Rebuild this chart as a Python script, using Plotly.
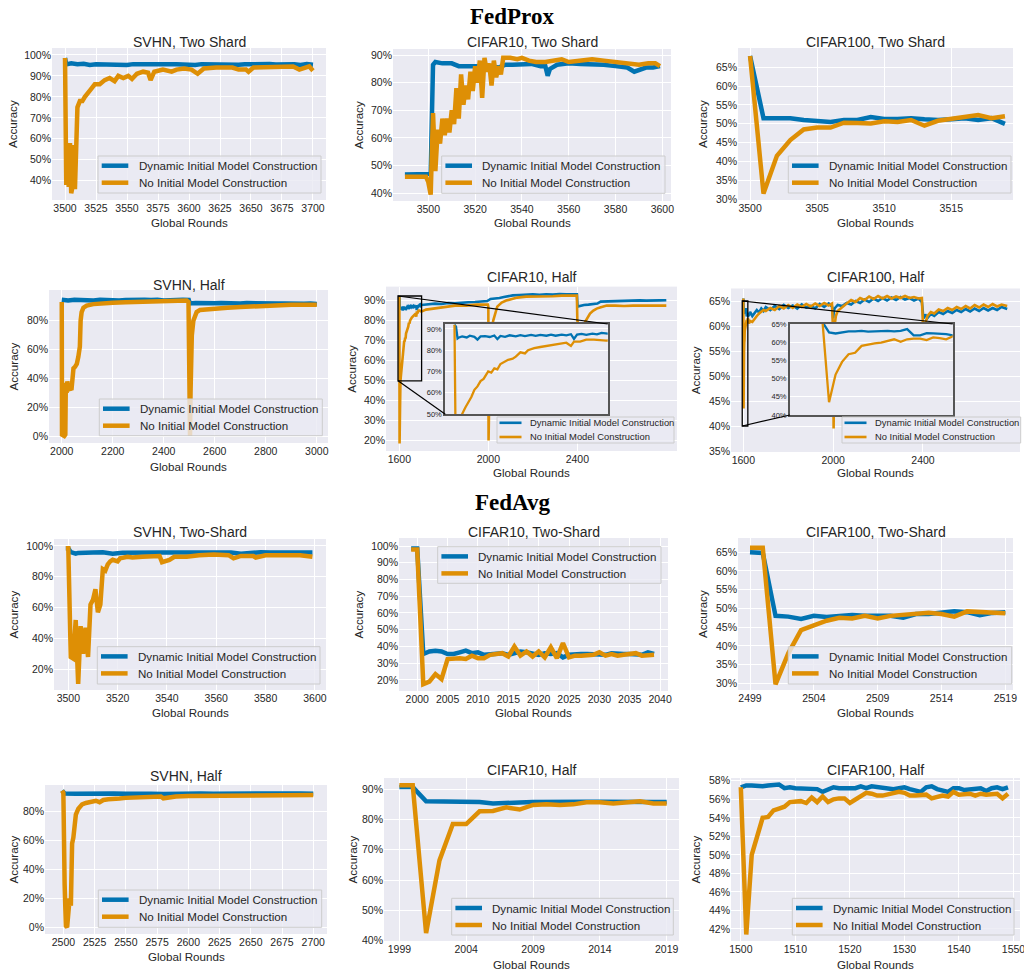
import plotly.graph_objects as go

W, H = 1024, 972
BLUE = '#0173b2'
ORANGE = '#de8f05'
NAME_DYN = 'Dynamic Initial Model Construction'
NAME_NO = 'No Initial Model Construction'

# ======================= DATA =======================
# ---- FedProx, SVHN, Two Shard ----
fp_svhn_two_x_dyn = [3500, 3501, 3505, 3510, 3515, 3520, 3525, 3530, 3535, 3540, 3545, 3550, 3555, 3560,
                     3565, 3570, 3575, 3580, 3585, 3590, 3595, 3600, 3605, 3610, 3615, 3620, 3625, 3630,
                     3635, 3640, 3645, 3650, 3655, 3660, 3665, 3670, 3675, 3680, 3685, 3690, 3695, 3700]
fp_svhn_two_y_dyn = [98.5, 95.5, 96.0, 95.6, 95.8, 95.2, 95.5, 95.4, 95.7, 95.3, 95.6, 95.2, 95.6, 95.5,
                     95.7, 95.4, 95.6, 95.3, 95.5, 95.6, 95.4, 95.5, 95.2, 95.6, 95.5, 95.7, 95.4, 95.5,
                     95.6, 95.3, 95.5, 95.6, 95.4, 95.5, 95.7, 95.4, 95.6, 95.3, 95.5, 95.2, 95.6, 95.3]
fp_svhn_two_x_no = [3500, 3501, 3502, 3503, 3504, 3505, 3506, 3507, 3508, 3509, 3510, 3512, 3514, 3516,
                    3518, 3520, 3524, 3528, 3532, 3536, 3540, 3543, 3547, 3551, 3554, 3558, 3563, 3567,
                    3569, 3572, 3579, 3586, 3590, 3596, 3602, 3607, 3612, 3622, 3635, 3640, 3646, 3648,
                    3652, 3662, 3676, 3684, 3689, 3697, 3700]
fp_svhn_two_y_no = [98.5, 38, 57, 37, 58, 34, 37, 57, 36, 60, 75, 78, 78, 80,
                    82, 83, 86, 86, 88, 89, 87.5, 90, 89, 90, 88.5, 91, 92, 91.5,
                    88, 92, 93, 92, 93, 93.5, 93, 91, 93.5, 94, 94, 93, 93, 92,
                    94, 94, 94.5, 94.5, 93, 94.5, 92.5]

# ---- FedProx, CIFAR10, Two Shard ----
fp_c10_two_x_dyn = [3490, 3495, 3500, 3501, 3502, 3503, 3506, 3510, 3513, 3516, 3520, 3523, 3526, 3530,
                    3533, 3536, 3540, 3544, 3548, 3550, 3551, 3552, 3555, 3560, 3565, 3570, 3575, 3580,
                    3585, 3588, 3590, 3593, 3596, 3599]
fp_c10_two_y_dyn = [46.8, 47.0, 46.8, 47.0, 86.5, 87.5, 87.0, 87.0, 86.0, 86.0, 86.0, 85.8, 86.0, 85.5,
                    86.5, 86.5, 86.5, 86.8, 86.0, 86.0, 82.5, 85.0, 86.5, 87.0, 86.8, 86.8, 86.5, 86.0,
                    85.5, 84.0, 84.5, 85.5, 85.5, 86.0]
fp_c10_two_x_no = [3490, 3495, 3499, 3500, 3501, 3502, 3503, 3504, 3505, 3506, 3507, 3508, 3509, 3510,
                   3511, 3512, 3513, 3514, 3515, 3516, 3517, 3518, 3519, 3520, 3521, 3522, 3523, 3524,
                   3525, 3526, 3527, 3528, 3529, 3530, 3531, 3532, 3535, 3538, 3540, 3543, 3546, 3550,
                   3553, 3557, 3560, 3565, 3570, 3575, 3580, 3585, 3590, 3594, 3597, 3599]
fp_c10_two_y_no = [46, 46, 46, 44, 39.5, 69, 48, 63, 58, 67, 61, 67, 62, 70,
                   65, 78, 67, 83, 72, 79, 74, 84, 77, 86, 80, 88, 74.5, 89,
                   84, 87, 79, 88, 82, 86, 83, 89, 89, 88.5, 89, 88, 87.5, 87.5,
                   88, 88.5, 87.5, 88, 88.5, 88, 87.5, 87, 86.5, 87, 87, 86]

# ---- FedProx, CIFAR100, Two Shard ----
fp_c100_two_x = list(range(3500, 3520))
fp_c100_two_y_dyn = [68, 51.5, 51.5, 51.5, 51.0, 50.8, 50.5, 51.0, 51.0, 51.8,
                     51.3, 51.3, 51.5, 51.2, 51.0, 51.2, 51.5, 51.0, 51.5, 50.0]
fp_c100_two_y_no = [68, 31.5, 41.5, 45.7, 48.5, 49.0, 49.0, 50.3, 50.2, 50.1,
                    50.7, 50.5, 51.0, 49.5, 50.8, 51.3, 51.5, 52.3, 51.5, 52.0]

# ---- FedProx, SVHN, Half ----
fp_svhn_half_x_dyn = [2000, 2025, 2050, 2075, 2100, 2125, 2150, 2175, 2200, 2225, 2250, 2275, 2300, 2325,
                      2350, 2375, 2400, 2425, 2450, 2475, 2498, 2502, 2525, 2550, 2575, 2600, 2625, 2650,
                      2675, 2700, 2725, 2750, 2775, 2800, 2825, 2850, 2875, 2900, 2925, 2950, 2975, 3000]
fp_svhn_half_y_dyn = [94.5, 94.0, 94.6, 94.2, 94.5, 94.1, 94.6, 94.3, 94.5, 94.0, 94.4, 94.6, 94.2, 94.5,
                      94.3, 94.6, 94.1, 94.5, 94.3, 94.6, 94.4, 92.0, 92.3, 92.0, 92.4, 92.1, 92.3, 92.0,
                      92.2, 91.9, 92.2, 92.0, 92.1, 91.8, 92.1, 91.9, 92.0, 91.7, 92.0, 91.8, 91.9, 91.6]
fp_svhn_half_x_no = [2000, 2001, 2005, 2010, 2014, 2016, 2019, 2022, 2025, 2028, 2031, 2034, 2038, 2042,
                     2046, 2052, 2059, 2065, 2068, 2071, 2074, 2078, 2085, 2098, 2124, 2150, 2200, 2250,
                     2300, 2350, 2400, 2450, 2490, 2497, 2501, 2503, 2505, 2507, 2510, 2516, 2522, 2529,
                     2542, 2569, 2608, 2650, 2700, 2750, 2800, 2850, 2900, 2950, 3000]
fp_svhn_half_y_no = [93, 0, 0.5, 0, 1, 37, 30, 38, 31, 36, 32, 33, 32, 45,
                     47, 48, 50, 55, 60, 62, 80, 86, 89, 90.5, 91.5, 92, 92.5, 92.8,
                     93, 93.3, 93.5, 93.5, 94, 93, 0, 0, 30, 55, 70, 80, 84, 86,
                     87.5, 88, 88.5, 89, 89.5, 90, 90.5, 90.5, 91, 91, 91]

# ---- FedProx, CIFAR10, Half ----
fp_c10_half_x_dyn = [1600, 1601, 1602, 1603, 1605, 1608, 1610, 1613, 1615, 1617, 1620, 1623, 1626, 1628,
                     1630, 1633, 1636, 1640, 1643, 1646, 1650, 1653, 1656, 1660, 1663, 1666, 1670, 1673,
                     1676, 1678, 1680, 1683, 1686, 1690, 1693, 1696, 1700, 1730, 1760, 1790, 1820, 1850,
                     1880, 1910, 1940, 1970, 1995, 2010, 2030, 2050, 2070, 2090, 2110, 2140, 2170, 2200,
                     2230, 2260, 2290, 2320, 2350, 2380, 2398, 2401, 2415, 2430, 2450, 2470, 2490, 2505,
                     2530, 2560, 2590, 2620, 2650, 2680, 2710, 2740, 2770, 2800]
fp_c10_half_y_dyn = [92, 91, 85.5, 86, 86.5, 86, 86.8, 86.3, 85, 86.5, 86.6, 86.2, 86.9, 85.2,
                     86.7, 86.3, 87, 86.5, 87.1, 86.6, 87.2, 86.7, 87.2, 86.8, 87.3, 86.8, 87.3, 87,
                     87.5, 85.3, 87.3, 87.7, 87.2, 87.8, 87.4, 88.1, 87.8, 88.2, 88.5, 88.3, 88.8, 88.6,
                     89, 89.2, 89.3, 89.5, 89.8, 90.8, 91, 91.3, 91.8, 92.2, 92.6, 92.8, 93, 93.1,
                     92.9, 93.2, 93, 93.3, 93.1, 93.3, 93.2, 87, 87.5, 87.8, 88, 88.3, 88.5, 89.5,
                     89.6, 89.8, 89.7, 90, 89.8, 90.1, 90, 90.2, 90.1, 90.2]
fp_c10_half_x_no = [1600, 1601, 1603, 1605, 1607, 1609, 1611, 1613, 1615, 1617, 1619, 1622, 1624, 1626,
                    1628, 1630, 1633, 1635, 1638, 1640, 1643, 1646, 1648, 1652, 1656, 1660, 1665, 1669,
                    1673, 1676, 1678, 1682, 1686, 1691, 1695, 1699, 1720, 1750, 1800, 1850, 1900, 1950,
                    1998, 2000, 2001, 2004, 2008, 2014, 2022, 2040, 2060, 2080, 2100, 2130, 2170, 2210,
                    2250, 2290, 2330, 2370, 2398, 2400, 2410, 2427, 2442, 2457, 2472, 2487, 2502, 2532,
                    2570, 2610, 2650, 2690, 2730, 2770, 2800]
fp_c10_half_y_no = [92, 18.5, 35, 50, 53, 55.2, 58, 61.4, 63, 65.5, 66.5, 70, 69.5, 71.5,
                    71, 73.5, 74.5, 75.5, 76, 77, 79, 78.5, 80, 81, 81.5, 82, 82.5, 83,
                    83.5, 82, 84, 84, 85, 85, 84.7, 84.5, 85.5, 86, 87, 87.5, 87.5, 88,
                    88, 87, 20, 45, 68, 75, 80, 87, 89, 90, 90.5, 91.5, 92, 92,
                    92.3, 92.2, 92.5, 92.3, 92.5, 80, 76, 77.8, 81, 83.5, 85, 86, 86.5, 87.5,
                    87.5, 87.3, 87.5, 87.6, 87.4, 87.5, 87.5]

# ---- FedProx, CIFAR100, Half ----
fp_c100_half_x = [1600, 1601, 1602, 1603, 1604, 1605, 1606, 1607, 1608, 1609, 1610, 1611, 1612, 1613,
                  1614, 1615, 1616, 1617, 1618, 1619, 1620,
                  1625, 1630, 1640, 1650, 1660, 1670, 1680, 1690, 1700, 1720,
                  1740, 1760, 1780, 1800, 1820, 1840, 1860, 1880, 1900, 1920,
                  1940, 1960, 1980, 1995, 2000, 2002, 2006, 2012, 2020, 2040,
                  2060, 2080, 2100, 2120, 2140, 2160, 2180, 2200, 2220, 2240,
                  2260, 2280, 2300, 2320, 2340, 2360, 2380, 2395, 2400, 2402,
                  2410, 2420, 2435, 2450, 2470, 2490, 2510, 2530, 2550, 2570,
                  2590, 2610, 2630, 2650, 2670, 2690, 2710, 2730, 2750, 2775]
fp_c100_half_y_dyn = [65.5, 62.7, 62.4, 62.7, 63, 63, 63.1, 62.9, 63, 63, 63.1, 63, 63.1, 63.6,
                      61.9, 61.9, 62.5, 62.4, 62.4, 62.2, 61.9,
                      62.2, 62.8, 62.0, 62.6, 63.2, 62.7, 63.5, 63.0, 63.8, 63.2,
                      64.0, 63.4, 64.2, 63.6, 64.1, 63.5, 64.3, 63.7, 64.0, 63.5,
                      64.4, 63.8, 64.5, 63.9, 61.5, 62.5, 63.5, 63.8, 64.2, 64.0,
                      64.6, 64.3, 65.0, 64.6, 65.3, 64.8, 65.5, 65.0, 65.6, 65.1,
                      65.7, 65.2, 65.8, 65.3, 65.6, 65.1, 65.5, 64.8, 62.0, 61.5,
                      62.3, 61.6, 62.4, 62.0, 62.8, 62.4, 63.0, 62.6, 63.2, 62.8,
                      63.4, 62.9, 63.5, 63.0, 63.6, 63.1, 63.6, 63.2, 63.8, 63.4]
fp_c100_half_y_no = [65.5, 43.5, 51.1, 54.6, 56.7, 57.1, 59, 59.4, 59.7, 59.9, 60.4, 60.8, 60.1, 60.8,
                     61, 61, 60.6, 61.3, 61.1, 60.8, 61.6,
                     60.5, 61.0, 60.8, 61.5, 62.0, 62.5, 62.8, 63.2, 63.0, 63.6,
                     63.2, 64.0, 63.5, 64.2, 63.6, 64.3, 63.8, 64.4, 63.9, 64.5,
                     64.0, 64.6, 64.1, 64.5, 58.0, 39.5, 60.0, 62.0, 63.0, 63.8,
                     64.5, 65.2, 64.8, 65.6, 65.2, 65.9, 65.4, 66.0, 65.5, 66.0,
                     65.5, 65.9, 65.6, 66.0, 65.6, 65.8, 65.5, 65.6, 60.0, 45.0,
                     60.5, 62.0, 62.8, 62.5, 63.3, 63.0, 63.6, 63.2, 63.8, 63.4,
                     64.0, 63.5, 64.2, 63.7, 64.3, 63.8, 64.4, 63.9, 64.3, 64.0]

# ---- FedAvg, SVHN, Two-Shard ----
fa_svhn_two_x_dyn = [3499, 3500, 3501, 3502, 3503, 3504, 3506, 3510, 3514, 3518, 3522, 3526, 3530, 3534,
                     3538, 3542, 3546, 3550, 3554, 3558, 3562, 3566, 3570, 3572, 3574, 3578, 3582, 3586,
                     3590, 3594, 3598, 3599]
fa_svhn_two_y_dyn = [98.5, 98.5, 96.0, 95.5, 95.0, 95.5, 95.8, 95.7, 95.9, 95.0, 95.6, 95.8, 95.6, 95.9,
                     95.7, 95.8, 95.9, 95.7, 95.8, 95.9, 95.7, 95.8, 95.0, 95.3, 95.8, 95.9, 95.7, 95.8,
                     95.9, 95.7, 95.8, 95.7]
fa_svhn_two_x_no = [3499, 3500, 3501, 3502, 3503, 3504, 3505, 3506, 3507, 3508, 3509, 3510, 3511, 3512,
                    3513, 3514, 3515, 3516, 3517, 3518, 3520, 3521, 3524, 3526, 3530, 3533, 3537, 3538,
                    3539, 3541, 3543, 3548, 3553, 3559, 3565, 3567, 3570, 3575, 3576, 3580, 3587, 3594,
                    3599]
fa_svhn_two_y_no = [98.5, 98.5, 28, 27, 52, 10.5, 48, 30, 47, 28, 62, 65, 72, 57,
                    62, 85, 84, 88, 90, 91, 90, 92, 93, 92.5, 93, 93.5, 93.5, 89.5,
                    90, 91, 93, 93, 94, 94.5, 94, 92, 93.5, 93.5, 92.5, 94, 94, 94,
                    93]

# ---- FedAvg, CIFAR10, Two-Shard ----
fa_c10_two_x = list(range(1999, 2040))
fa_c10_two_y_dyn = [98.5, 98.5, 35.5, 37.0, 37.5, 37.0, 35.5, 35.5, 36.5, 37.5,
                    36.0, 36.5, 35.0, 35.5, 35.5, 36.0, 35.0, 36.0, 37.0, 36.5,
                    36.0, 35.0, 36.0, 35.5, 36.0, 33.5, 35.0, 35.5, 35.5, 35.5,
                    35.5, 35.5, 35.0, 36.0, 35.5, 35.5, 35.5, 35.5, 35.0, 36.5,
                    35.5]
fa_c10_two_y_no = [98.0, 98.0, 17.5, 19.0, 23.5, 20.5, 32.5, 33.0, 33.0, 32.5,
                   34.5, 33.0, 33.0, 35.0, 35.5, 36.0, 34.0, 40.0, 34.5, 37.0,
                   34.0, 37.0, 33.5, 39.5, 33.0, 42.0, 33.5, 34.5, 34.5, 34.5,
                   35.0, 36.5, 34.5, 35.5, 34.5, 35.0, 35.5, 36.0, 34.5, 35.0,
                   35.0]

# ---- FedAvg, CIFAR100, Two-Shard ----
fa_c100_two_x = list(range(2499, 2520))
fa_c100_two_y_dyn = [65, 64.8, 48, 47.8, 47.2, 48, 47.7, 48, 48.2, 48, 48.1,
                     48, 47.5, 48.5, 48.5, 49, 49.2, 49, 48.2, 48.8, 49]
fa_c100_two_y_no = [66.2, 66.2, 29.7, 38, 44.2, 45.5, 46.7, 47.5, 47.3, 48, 47.3,
                    48, 48.3, 48.8, 48.8, 48.5, 47.8, 49.2, 49, 49, 48.7]

# ---- FedAvg, SVHN, Half ----
fa_svhn_half_x_dyn = [2499, 2501, 2510, 2520, 2530, 2540, 2550, 2560, 2570, 2580, 2590,
                      2600, 2610, 2620, 2630, 2640, 2650, 2660, 2670, 2680, 2690, 2700]
fa_svhn_half_y_dyn = [94.5, 92.5, 92.3, 92.6, 92.2, 92.5, 92.3, 92.6, 92.4, 92.2, 92.5,
                      92.3, 92.6, 92.4, 92.5, 92.2, 92.6, 92.4, 92.5, 92.3, 92.6, 92.4]
fa_svhn_half_x_no = [2499, 2500, 2501, 2502, 2503, 2504, 2505, 2506, 2507, 2508, 2509, 2510,
                     2512, 2515, 2518, 2522, 2526, 2529, 2532, 2536, 2540, 2545, 2550, 2560,
                     2570, 2578, 2580, 2590, 2600, 2625, 2650, 2658, 2660, 2675, 2700]
fa_svhn_half_y_no = [94.5, 93, 30, 1, 0, 18, 20, 15, 58, 62, 74, 78,
                     82, 85, 86, 87, 87.5, 86.5, 88, 88.5, 88.5, 89, 89.5, 89.8,
                     90, 90.5, 89.2, 90.5, 90.8, 91, 91.2, 90.5, 91, 91.3, 91.5]

# ---- FedAvg, CIFAR10, Half ----
fa_c10_half_x = list(range(1999, 2020))
fa_c10_half_y_dyn = [90.7, 90.7, 86.0, 86.0, 86.0, 85.9, 85.8, 85.3, 85.6, 85.6, 85.8,
                     85.9, 85.8, 85.8, 85.9, 85.9, 85.8, 85.9, 85.9, 85.8, 85.8]
fa_c10_half_y_no = [91.3, 91.3, 42.5, 66.5, 78.5, 78.5, 82.7, 82.8, 84.0, 83.3, 84.8,
                    85.0, 84.8, 85.0, 85.7, 85.7, 85.3, 85.5, 86.0, 85.3, 85.3]

# ---- FedAvg, CIFAR100, Half ----
fa_c100_half_x = list(range(1500, 1550))
fa_c100_half_y_dyn = [57.3, 57.5, 57.5, 57.4, 57.4, 57.5, 57.5, 57.6, 57.2, 57.3,
                      57.2, 57.2, 57.2, 57.2, 57.1, 56.8, 57.1, 57.3, 57.2, 57.2,
                      57.2, 57.2, 57.4, 57.2, 57.4, 57.3, 57.2, 57.2, 57.1, 57.2,
                      57.3, 57.1, 57.0, 56.8, 57.3, 57.4, 57.1, 57.0, 56.8, 57.2,
                      57.2, 57.0, 57.1, 57.2, 57.2, 56.9, 57.2, 57.3, 57.1, 57.3]
fa_c100_half_y_no = [57.3, 41.4, 50.0, 52.0, 54.0, 54.1, 54.8, 55.0, 55.2, 55.7,
                     55.7, 55.8, 55.6, 56.2, 55.7, 56.3, 55.7, 56.0, 56.1, 56.1,
                     55.6, 56.0, 56.3, 56.7, 56.6, 56.4, 56.4, 56.5, 56.6, 56.8,
                     56.7, 56.4, 56.4, 56.4, 56.5, 56.1, 56.2, 56.4, 56.3, 56.8,
                     56.5, 56.6, 56.6, 56.4, 56.6, 56.5, 56.5, 56.6, 56.1, 56.6]

# ---- tick values ----
xt_fp_svhn_two = [3500, 3525, 3550, 3575, 3600, 3625, 3650, 3675, 3700]
yt_fp_svhn_two = [40, 50, 60, 70, 80, 90, 100]
xt_fp_c10_two = [3500, 3520, 3540, 3560, 3580, 3600]
yt_fp_c10_two = [40, 50, 60, 70, 80, 90]
xt_fp_c100_two = [3500, 3505, 3510, 3515]
yt_fp_c100_two = [30, 35, 40, 45, 50, 55, 60, 65]
xt_fp_svhn_half = [2000, 2200, 2400, 2600, 2800, 3000]
yt_fp_svhn_half = [0, 20, 40, 60, 80]
xt_fp_c10_half = [1600, 2000, 2400]
yt_fp_c10_half = [20, 30, 40, 50, 60, 70, 80, 90]
yt_fp_c10_inset = [50, 60, 70, 80, 90]
xt_fp_c100_half = [1600, 2000, 2400]
yt_fp_c100_half = [35, 40, 45, 50, 55, 60, 65]
yt_fp_c100_inset = [40, 45, 50, 55, 60, 65]
xt_fa_svhn_two = [3500, 3520, 3540, 3560, 3580, 3600]
yt_fa_svhn_two = [20, 40, 60, 80, 100]
xt_fa_c10_two = [2000, 2005, 2010, 2015, 2020, 2025, 2030, 2035, 2040]
yt_fa_c10_two = [20, 30, 40, 50, 60, 70, 80, 90, 100]
xt_fa_c100_two = [2499, 2504, 2509, 2514, 2519]
yt_fa_c100_two = [30, 35, 40, 45, 50, 55, 60, 65]
xt_fa_svhn_half = [2500, 2525, 2550, 2575, 2600, 2625, 2650, 2675, 2700]
yt_fa_svhn_half = [0, 20, 40, 60, 80]
xt_fa_c10_half = [1999, 2004, 2009, 2014, 2019]
yt_fa_c10_half = [40, 50, 60, 70, 80, 90]
xt_fa_c100_half = [1500, 1510, 1520, 1530, 1540, 1550]
yt_fa_c100_half = [42, 44, 46, 48, 50, 52, 54, 56, 58]

# ======================= LAYOUT SPECS (pixels) =======================
panels = [
    dict(data=(fp_svhn_two_x_dyn, fp_svhn_two_y_dyn, fp_svhn_two_x_no, fp_svhn_two_y_no),
         title='SVHN, Two Shard', xd=(52, 326), yd=(48, 200), xr=(3489.5, 3710.5), yr=(30.8, 103.3),
         xt=xt_fp_svhn_two, yt=yt_fp_svhn_two, ty=42, gy=222, ax=13, leg=(98, 156, 321, 193), small=False),
    dict(data=(fp_c10_two_x_dyn, fp_c10_two_y_dyn, fp_c10_two_x_no, fp_c10_two_y_no),
         title='CIFAR10, Two Shard', xd=(393, 671), yd=(49, 201), xr=(3484.9, 3603.7), yr=(37.2, 92.2),
         xt=xt_fp_c10_two, yt=yt_fp_c10_two, ty=42, gy=222, ax=358, leg=(441.7, 156, 665, 193.3), small=False),
    dict(data=(fp_c100_two_x, fp_c100_two_y_dyn, fp_c100_two_x, fp_c100_two_y_no),
         title='CIFAR100, Two Shard', xd=(738, 1013), yd=(48, 200), xr=(3499.1, 3519.6), yr=(29.8, 70.1),
         xt=xt_fp_c100_two, yt=yt_fp_c100_two, ty=42, gy=222, ax=703, leg=(788.3, 156, 1011, 193), small=False),
    dict(data=(fp_svhn_half_x_dyn, fp_svhn_half_y_dyn, fp_svhn_half_x_no, fp_svhn_half_y_no),
         title='SVHN, Half', xd=(49, 328), yd=(290, 443), xr=(1950, 3044), yr=(-4.8, 101.3),
         xt=xt_fp_svhn_half, yt=yt_fp_svhn_half, ty=285, gy=466, ax=13, leg=(99.3, 399, 322.3, 435.7), small=False),
    dict(data=(fp_c10_half_x_dyn, fp_c10_half_y_dyn, fp_c10_half_x_no, fp_c10_half_y_no),
         title='CIFAR10, Half', xd=(386, 677), yd=(286.6, 451), xr=(1540, 2848), yr=(14.8, 97.0),
         xt=xt_fp_c10_half, yt=yt_fp_c10_half, ty=277, gy=472, ax=352, leg=(497, 417, 674, 443), small=True),
    dict(data=(fp_c100_half_x, fp_c100_half_y_dyn, fp_c100_half_x, fp_c100_half_y_no),
         title='CIFAR100, Half', xd=(731, 1020), yd=(288.5, 452), xr=(1545, 2832), yr=(34.8, 67.5),
         xt=xt_fp_c100_half, yt=yt_fp_c100_half, ty=277, gy=472, ax=695, leg=(842, 417, 1020.7, 443), small=True),
    dict(data=(fa_svhn_two_x_dyn, fa_svhn_two_y_dyn, fa_svhn_two_x_no, fa_svhn_two_y_no),
         title='SVHN, Two-Shard', xd=(54, 326), yd=(539, 690), xr=(3494.2, 3604.5), yr=(6.6, 104.5),
         xt=xt_fa_svhn_two, yt=yt_fa_svhn_two, ty=532, gy=712, ax=13, leg=(97.3, 646.7, 320, 684), small=False),
    dict(data=(fa_c10_two_x, fa_c10_two_y_dyn, fa_c10_two_x, fa_c10_two_y_no),
         title='CIFAR10, Two-Shard', xd=(399, 668), yd=(538, 691), xr=(1997, 2041.3), yr=(13.4, 104.8),
         xt=xt_fa_c10_two, yt=yt_fa_c10_two, ty=532, gy=712, ax=358, leg=(437.7, 546.7, 661, 583.3), small=False),
    dict(data=(fa_c100_two_x, fa_c100_two_y_dyn, fa_c100_two_x, fa_c100_two_y_no),
         title='CIFAR100, Two-Shard', xd=(738, 1013), yd=(538, 690), xr=(2498.06, 2519.6), yr=(28.2, 68.8),
         xt=xt_fa_c100_two, yt=yt_fa_c100_two, ty=532, gy=712, ax=702, leg=(788.3, 646.7, 1011.7, 684), small=False),
    dict(data=(fa_svhn_half_x_dyn, fa_svhn_half_y_dyn, fa_svhn_half_x_no, fa_svhn_half_y_no),
         title='SVHN, Half', xd=(45, 327), yd=(785, 934), xr=(2485.3, 2711), yr=(-4.6, 98.4),
         xt=xt_fa_svhn_half, yt=yt_fa_svhn_half, ty=776, gy=956, ax=13, leg=(98.3, 890, 321.7, 927.3), small=False),
    dict(data=(fa_c10_half_x, fa_c10_half_y_dyn, fa_c10_half_x, fa_c10_half_y_no),
         title='CIFAR10, Half', xd=(384, 679), yd=(778, 941), xr=(1997.85, 2019.92), yr=(39.9, 93.7),
         xt=xt_fa_c10_half, yt=yt_fa_c10_half, ty=770, gy=964, ax=352, leg=(451.7, 898.3, 673.3, 935), small=False),
    dict(data=(fa_c100_half_x, fa_c100_half_y_dyn, fa_c100_half_x, fa_c100_half_y_no),
         title='CIFAR100, Half', xd=(731, 1020), yd=(778, 941), xr=(1498.2, 1551.2), yr=(40.7, 58.3),
         xt=xt_fa_c100_half, yt=yt_fa_c100_half, ty=770, gy=964, ax=695, leg=(792.3, 898.3, 1014, 935), small=False),
]

TXT = '#262626'
FONT = 'Liberation Sans, Arial, sans-serif'
axis_style = dict(showline=False, zeroline=False, ticks='', showgrid=True, gridcolor='white', gridwidth=1.2,
                  tickfont=dict(size=10.5, color=TXT, family=FONT), automargin=False, fixedrange=True)

fig = go.Figure()
layout = dict(width=W, height=H, margin=dict(l=0, r=0, t=0, b=0, pad=0), paper_bgcolor='white',
              plot_bgcolor='#eaeaf2', font=dict(family=FONT, color=TXT), showlegend=False)
annotations = []
shapes = []


def xdom(a, b):
    return [a / W, b / W]


def ydom(top, bottom):
    return [1 - bottom / H, 1 - top / H]


def pct(vals):
    return ['%g%%' % v for v in vals]


def add_legend(box, small):
    x0, y0, x1, y1 = box
    shapes.append(dict(type='rect', xref='paper', yref='paper', x0=x0 / W, x1=x1 / W, y0=1 - y1 / H,
                       y1=1 - y0 / H, fillcolor='rgba(234,234,242,0.8)', line=dict(color='#cccccc', width=1),
                       layer='above'))
    if small:
        l0, l1, tx, rows, lw, fs = 2.5, 24.5, 30.5, (5.8, 20.0), 2.6, 9.4
    else:
        l0, l1, tx, rows, lw, fs = 3.7, 30.3, 38.7, (9.7, 26.7), 4.5, 11.6
    for (name, color), dy in zip(((NAME_DYN, BLUE), (NAME_NO, ORANGE)), rows):
        yy = 1 - (y0 + dy) / H
        shapes.append(dict(type='line', xref='paper', yref='paper', x0=(x0 + l0) / W, x1=(x0 + l1) / W,
                           y0=yy, y1=yy, line=dict(color=color, width=lw), layer='above'))
        annotations.append(dict(text=name, x=(x0 + tx) / W, y=yy, xref='paper', yref='paper',
                                xanchor='left', yanchor='middle', showarrow=False,
                                font=dict(size=fs, color=TXT, family=FONT)))


for i, p in enumerate(panels, start=1):
    s = '' if i == 1 else str(i)
    lw = 2.6 if p['small'] else 4.5
    layout['xaxis' + s] = dict(domain=xdom(*p['xd']), range=list(p['xr']), anchor='y' + s,
                               tickvals=p['xt'], ticklabeloverflow='allow', **axis_style)
    layout['yaxis' + s] = dict(domain=ydom(*p['yd']), range=list(p['yr']), anchor='x' + s,
                               tickvals=p['yt'], ticktext=pct(p['yt']), **axis_style)
    xa, ya, xb, yb = p['data']
    fig.add_trace(go.Scatter(x=xa, y=ya, mode='lines', name=NAME_DYN,
                             line=dict(color=BLUE, width=lw), xaxis='x' + s, yaxis='y' + s))
    fig.add_trace(go.Scatter(x=xb, y=yb, mode='lines', name=NAME_NO,
                             line=dict(color=ORANGE, width=lw), xaxis='x' + s, yaxis='y' + s))
    cx = (p['xd'][0] + p['xd'][1]) / 2 / W
    cy = 1 - (p['yd'][0] + p['yd'][1]) / 2 / H
    annotations.append(dict(text=p['title'], x=cx, y=1 - p['ty'] / H, xref='paper', yref='paper',
                            showarrow=False, xanchor='center', yanchor='middle',
                            font=dict(size=14, color=TXT, family=FONT)))
    annotations.append(dict(text='Global Rounds', x=cx, y=1 - p['gy'] / H, xref='paper', yref='paper',
                            showarrow=False, xanchor='center', yanchor='middle',
                            font=dict(size=11.6, color=TXT, family=FONT)))
    annotations.append(dict(text='Accuracy', x=p['ax'] / W, y=cy, xref='paper', yref='paper', textangle=-90,
                            showarrow=False, xanchor='center', yanchor='middle',
                            font=dict(size=11.6, color=TXT, family=FONT)))

# section titles
for txt, yy in (('FedProx', 16), ('FedAvg', 502)):
    annotations.append(dict(text=txt, x=0.5, y=1 - yy / H, xref='paper', yref='paper', showarrow=False,
                            xanchor='center', yanchor='middle',
                            font=dict(size=23, color='black', family='Liberation Serif, Times New Roman, serif',
                                      weight='bold')))

# ======================= INSETS =======================
insets = [
    dict(k=13, main=5, xd=(445.3, 607.7), yd=(324, 414.3), xr=(1594, 1700), yr=(49.9, 92.3),
         yt=yt_fp_c10_inset, data=(fp_c10_half_x_dyn, fp_c10_half_y_dyn, fp_c10_half_x_no, fp_c10_half_y_no)),
    dict(k=14, main=6, xd=(790, 952.7), yd=(324, 415), xr=(1595, 1620), yr=(40, 65),
         yt=yt_fp_c100_inset, data=(fp_c100_half_x, fp_c100_half_y_dyn, fp_c100_half_x, fp_c100_half_y_no)),
]


def to_paper(v, rng, dom):
    return dom[0] + (v - rng[0]) / (rng[1] - rng[0]) * (dom[1] - dom[0])


for ins in insets:
    k = str(ins['k'])
    m = ins['main']
    mp = panels[m - 1]
    layout['xaxis' + k] = dict(domain=xdom(*ins['xd']), range=list(ins['xr']), anchor='y' + k,
                               showticklabels=False, showgrid=False, zeroline=False, ticks='',
                               showline=True, mirror=True, linecolor='#555555', linewidth=2,
                               automargin=False, fixedrange=True)
    layout['yaxis' + k] = dict(domain=ydom(*ins['yd']), range=list(ins['yr']), anchor='x' + k,
                               tickvals=ins['yt'], ticktext=pct(ins['yt']), showgrid=True, gridcolor='white',
                               gridwidth=1, zeroline=False, ticks='', showline=True, mirror=True,
                               linecolor='#555555', linewidth=2, tickfont=dict(size=7.5, color=TXT, family=FONT),
                               automargin=False, fixedrange=True)
    # opaque background of the inset
    shapes.append(dict(type='rect', xref='x' + k, yref='y' + k, x0=ins['xr'][0], x1=ins['xr'][1],
                       y0=ins['yr'][0], y1=ins['yr'][1], fillcolor='#eaeaf2', line=dict(width=0), layer='below'))
    xa, ya, xb, yb = ins['data']
    fig.add_trace(go.Scatter(x=xa, y=ya, mode='lines', showlegend=False, line=dict(color=BLUE, width=2.3),
                             xaxis='x' + k, yaxis='y' + k))
    fig.add_trace(go.Scatter(x=xb, y=yb, mode='lines', showlegend=False, line=dict(color=ORANGE, width=2.3),
                             xaxis='x' + k, yaxis='y' + k))
    # zoom rectangle in the main panel
    shapes.append(dict(type='rect', xref='x' + str(m), yref='y' + str(m), x0=ins['xr'][0], x1=ins['xr'][1],
                       y0=ins['yr'][0], y1=ins['yr'][1], line=dict(color='black', width=1.3), layer='above'))
    # connector lines (paper coordinates)
    mxd = xdom(*mp['xd'])
    myd = ydom(*mp['yd'])
    rx0 = to_paper(ins['xr'][0], mp['xr'], mxd)
    ry0 = to_paper(ins['yr'][0], mp['yr'], myd)
    ry1 = to_paper(ins['yr'][1], mp['yr'], myd)
    ix = xdom(*ins['xd'])
    iy = ydom(*ins['yd'])
    shapes.append(dict(type='line', xref='paper', yref='paper', x0=rx0, y0=ry1, x1=ix[1], y1=iy[1],
                       line=dict(color='black', width=1.2), layer='above'))
    shapes.append(dict(type='line', xref='paper', yref='paper', x0=rx0, y0=ry0, x1=ix[0], y1=iy[0],
                       line=dict(color='black', width=1.2), layer='above'))

# legends (drawn last so they sit on top)
for p in panels:
    add_legend(p['leg'], p['small'])

layout['annotations'] = annotations
layout['shapes'] = shapes
fig.update_layout(**layout)
fig.write_html("out.html", config={'displayModeBar': False},
               post_script="document.body.style.margin='0px';")
